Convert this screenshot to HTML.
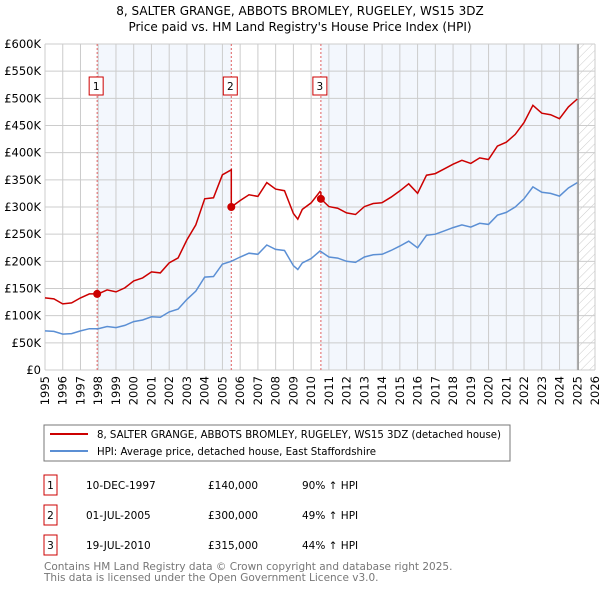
<!DOCTYPE html>
<html><head><meta charset="utf-8"><style>
body{margin:0;background:#fff;font-family:"DejaVu Sans","Liberation Sans",sans-serif;}
svg text{font-family:"DejaVu Sans","Liberation Sans",sans-serif;}
</style></head><body>
<svg id="chart" width="600" height="590" viewBox="0 0 600 590" xmlns="http://www.w3.org/2000/svg">
<defs><pattern id="hatch" width="6" height="6" patternUnits="userSpaceOnUse" patternTransform="rotate(45)"><line x1="0" y1="0" x2="0" y2="6" stroke="#ccc" stroke-width="1"/></pattern></defs>
<text x="300" y="15" text-anchor="middle" font-size="12">8, SALTER GRANGE, ABBOTS BROMLEY, RUGELEY, WS15 3DZ</text>
<text x="300" y="31" text-anchor="middle" font-size="12">Price paid vs. HM Land Registry's House Price Index (HPI)</text>
<g id="plot"></g>
<rect x="44" y="425" width="466" height="36" fill="#fff" stroke="#777"/>
<line x1="50" y1="434" x2="88" y2="434" stroke="#cc0000" stroke-width="2"/>
<text x="97" y="438" font-size="10.2" textLength="404" lengthAdjust="spacingAndGlyphs">8, SALTER GRANGE, ABBOTS BROMLEY, RUGELEY, WS15 3DZ (detached house)</text>
<line x1="50" y1="451" x2="88" y2="451" stroke="#5b8fd4" stroke-width="2"/>
<text x="97" y="455" font-size="10.2">HPI: Average price, detached house, East Staffordshire</text>
<g id="table" font-size="10.5"></g>
<text x="44" y="570" font-size="10.5" fill="#777">Contains HM Land Registry data © Crown copyright and database right 2025.</text>
<text x="44" y="581" font-size="10.5" fill="#777">This data is licensed under the Open Government Licence v3.0.</text>
</svg>
<script>
const hpiYears=[1995,1995.5,1996,1996.5,1997,1997.5,1998,1998.5,1999,1999.5,2000,2000.5,2001,2001.5,2002,2002.5,2003,2003.5,2004,2004.5,2005,2005.5,2006,2006.5,2007,2007.5,2008,2008.5,2009,2009.25,2009.5,2010,2010.5,2011,2011.5,2012,2012.5,2013,2013.5,2014,2014.5,2015,2015.5,2016,2016.5,2017,2017.5,2018,2018.5,2019,2019.5,2020,2020.5,2021,2021.5,2022,2022.5,2023,2023.5,2024,2024.5,2025];
const hpiValues=[72,71,66,67,72,76,76,80,78,82,89,92,98,97,107,112,130,145,171,172,195,200,208,215,213,230,222,220,192,185,197,205,219,208,206,200,198,208,212,213,220,228,237,225,248,250,256,262,267,263,270,268,285,290,300,315,337,327,325,320,335,345];
const saleYears=[1997.94,2005.5,2010.55];
const salePrices=[140,300,315];
const saleLabels=["1","2","3"];
const saleDates=["10-DEC-1997","01-JUL-2005","19-JUL-2010"];
const saleText=["£140,000","£300,000","£315,000"];
const saleHpi=["90% ↑ HPI","49% ↑ HPI","44% ↑ HPI"];
const yTicks=[0,50,100,150,200,250,300,350,400,450,500,550,600];
const xTicks=[1995,1996,1997,1998,1999,2000,2001,2002,2003,2004,2005,2006,2007,2008,2009,2010,2011,2012,2013,2014,2015,2016,2017,2018,2019,2020,2021,2022,2023,2024,2025,2026];
const NS="http://www.w3.org/2000/svg";
const X0=45,X1=595,Y0=370,Y1=44;
const xs=t=>X0+(t-1995)/(2026-1995)*(X1-X0);
const ys=v=>Y0-v/600*(Y0-Y1);
const plot=document.getElementById('plot');
function mk(tag,attrs,parent){const e=document.createElementNS(NS,tag);for(const k in attrs)e.setAttribute(k,attrs[k]);(parent||plot).appendChild(e);return e;}
function hpiAt(t){for(let i=0;i<hpiYears.length-1;i++){if(t<=hpiYears[i+1]){const f=(t-hpiYears[i])/(hpiYears[i+1]-hpiYears[i]);return hpiValues[i]+f*(hpiValues[i+1]-hpiValues[i]);}}return hpiValues[hpiValues.length-1];}
const lastT=hpiYears[hpiYears.length-1];
let r=mk('rect',{x:xs(saleYears[0]),y:Y1,width:xs(saleYears[1])-xs(saleYears[0]),height:Y0-Y1,fill:'#eef3fc',opacity:0.7});

r=mk('rect',{x:xs(saleYears[2]),y:Y1,width:xs(lastT)-xs(saleYears[2]),height:Y0-Y1,fill:'#eef3fc',opacity:0.7});

r=mk('rect',{x:xs(lastT+0.1),y:Y1,width:X1-xs(lastT+0.1),height:Y0-Y1,fill:'url(#hatch)'});

yTicks.forEach(v=>{const l=mk('line',{x1:X0,x2:X1,y1:ys(v),y2:ys(v),stroke:'#ccc','stroke-width':1});

const t=mk('text',{x:X0-4,y:ys(v)+4,'text-anchor':'end','font-size':11.5});t.textContent=v===0?'£0':'£'+v+'K';
});
xTicks.forEach(y=>{const l=mk('line',{x1:xs(y),x2:xs(y),y1:Y1,y2:Y0,stroke:'#ccc','stroke-width':1});

const t=mk('text',{x:0,y:0,'text-anchor':'end','font-size':11.5,transform:`translate(${xs(y)+4},${Y0+6}) rotate(-90)`});t.textContent=y;
});
let ln=mk('line',{x1:xs(lastT+0.05),x2:xs(lastT+0.05),y1:Y1,y2:Y0,stroke:'#999','stroke-width':1.5});

saleYears.forEach((s,i)=>{const l=mk('line',{x1:xs(s),x2:xs(s),y1:Y1,y2:Y0,stroke:'#e06060','stroke-width':1,'stroke-dasharray':'2,2'});

const b=mk('rect',{x:xs(s)-8,y:77,width:14,height:18,fill:'#fff',stroke:'#cc0000'});

const t=mk('text',{x:xs(s)-1,y:90,'text-anchor':'middle','font-size':10.5});t.textContent=saleLabels[i];
});
let d='';hpiYears.forEach((t,i)=>{d+=(i?'L':'M')+xs(t).toFixed(1)+','+ys(hpiValues[i]).toFixed(1);});
let p=mk('path',{d:d,fill:'none',stroke:'#5b8fd4','stroke-width':1.5});

function segRef(t){let k=0;for(let i=0;i<saleYears.length;i++)if(t>=saleYears[i])k=i;return k;}
let pts=[];
hpiYears.forEach((t,i)=>{
 saleYears.forEach((s,k)=>{if(i>0&&s>hpiYears[i-1]&&s<=t){if(k>0)pts.push([s,salePrices[k-1]*hpiAt(s)/hpiAt(saleYears[k-1])]);pts.push([s,salePrices[k]]);}});
 const k=segRef(t);pts.push([t,salePrices[k]*hpiValues[i]/hpiAt(saleYears[k])]);});
d='';pts.forEach((q,i)=>{d+=(i?'L':'M')+xs(q[0]).toFixed(1)+','+ys(q[1]).toFixed(1);});
p=mk('path',{d:d,fill:'none',stroke:'#cc0000','stroke-width':1.5});

saleYears.forEach((s,i)=>{const c=mk('circle',{cx:xs(s),cy:ys(salePrices[i]),r:4,fill:'#cc0000'});
});
const tb=document.getElementById('table');
saleYears.forEach((s,i)=>{const y=475+i*30;
const b=mk('rect',{x:44,y:y,width:13,height:20,fill:'#fff',stroke:'#cc0000'},tb);

const cols=[[50.5,saleLabels[i],'middle'],[86,saleDates[i],'start'],[208,saleText[i],'start'],[302,saleHpi[i],'start']];
cols.forEach((c,j)=>{const t=mk('text',{x:c[0],y:y+14,'text-anchor':c[2]},tb);t.textContent=c[1];

});});
</script>
</body></html>
